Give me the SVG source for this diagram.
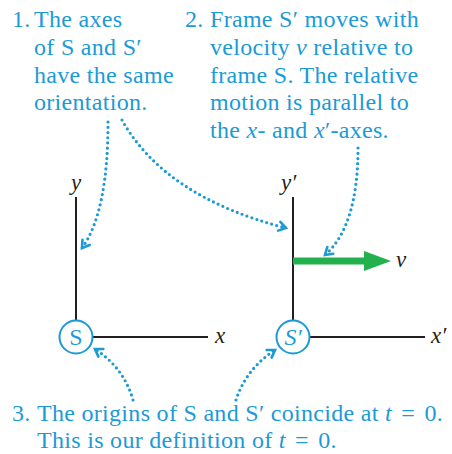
<svg xmlns="http://www.w3.org/2000/svg" width="452" height="454" viewBox="0 0 452 454">
<defs>
<style>
.note{font-family:"Liberation Serif","Times New Roman",serif;font-size:24px;letter-spacing:0.3px;fill:#1b9ad6}
.lbl{font-family:"Liberation Serif","Times New Roman",serif;font-size:23px;fill:#231f20;font-style:italic}
.it{font-style:italic}
.axis{stroke:#231f20;stroke-width:2;fill:none}
.org{stroke:#1b9ad6;stroke-width:2;fill:#fff}
.dot{stroke:#1b9ad6;stroke-width:3.2;fill:none;stroke-linecap:round;stroke-dasharray:0 5.2}
</style>
<marker id="ah" markerUnits="userSpaceOnUse" markerWidth="14" markerHeight="14" refX="0" refY="0" viewBox="-10 -7 14 14" orient="auto" overflow="visible">
<path d="M-7,-4.5 L0,0 L-7,4.5" fill="none" stroke="#1b9ad6" stroke-width="2.6" stroke-linecap="round" stroke-linejoin="miter"/>
</marker>
</defs>
<rect width="452" height="454" fill="#fff"/>

<g id="note1">
<text class="note" x="12" y="27">1.</text>
<text class="note" x="34" y="27">The axes</text>
<text class="note" x="34" y="55">of S and S′</text>
<text class="note" x="34" y="83">have the same</text>
<text class="note" x="34" y="110">orientation.</text>
</g>

<g id="note2">
<text class="note" x="185" y="27">2.</text>
<text class="note" x="210" y="27">Frame S′ moves with</text>
<text class="note" x="210" y="55">velocity <tspan class="it">v</tspan> relative to</text>
<text class="note" x="210" y="83">frame S. The relative</text>
<text class="note" x="210" y="110">motion is parallel to</text>
<text class="note" x="210" y="138">the <tspan class="it">x</tspan>- and <tspan class="it">x</tspan>′-axes.</text>
</g>

<g id="note3">
<text class="note" x="12" y="421">3.</text>
<text class="note" x="37" y="421">The origins of S and S′ coincide at <tspan class="it">t</tspan> <tspan dx="3">=</tspan> <tspan dx="3">0.</tspan></text>
<text class="note" x="37" y="448">This is our definition of <tspan class="it">t</tspan> <tspan dx="3">=</tspan> <tspan dx="3">0.</tspan></text>
</g>

<g id="frameS">
<line class="axis" x1="76" y1="197" x2="76" y2="320"/>
<line class="axis" x1="92" y1="337" x2="208" y2="337"/>
<text class="lbl" x="71" y="190">y</text>
<text class="lbl" x="215" y="343">x</text>
<circle class="org" cx="76" cy="337" r="16.5"/>
<text class="note" x="76" y="345" text-anchor="middle" style="letter-spacing:0">S</text>
</g>

<g id="frameS2">
<line class="axis" x1="293" y1="197" x2="293" y2="320"/>
<line class="axis" x1="309" y1="337" x2="425" y2="337"/>
<text class="lbl" x="281" y="190">y′</text>
<text class="lbl" x="431" y="343">x′</text>
<circle class="org" cx="293" cy="337" r="16.5"/>
<text class="note it" x="293" y="345" text-anchor="middle" style="letter-spacing:0">S′</text>
</g>

<g id="velocity">
<line x1="293" y1="261" x2="367" y2="261" stroke="#22b14c" stroke-width="7"/>
<polygon points="364,251 391,261 364,271" fill="#22b14c"/>
<text class="lbl" x="396" y="267">v</text>
</g>

<g id="connectors">
<path class="dot" d="M108,122 Q108,212 82,248" marker-end="url(#ah)"/>
<path class="dot" d="M122,120 Q165,197 286,228" marker-end="url(#ah)"/>
<path class="dot" d="M358,148 Q358,226 325,255" marker-end="url(#ah)"/>
<path class="dot" d="M133,400 Q124,368 95,349" marker-end="url(#ah)"/>
<path class="dot" d="M236,400 Q246,369 275,350" marker-end="url(#ah)"/>
</g>
</svg>
